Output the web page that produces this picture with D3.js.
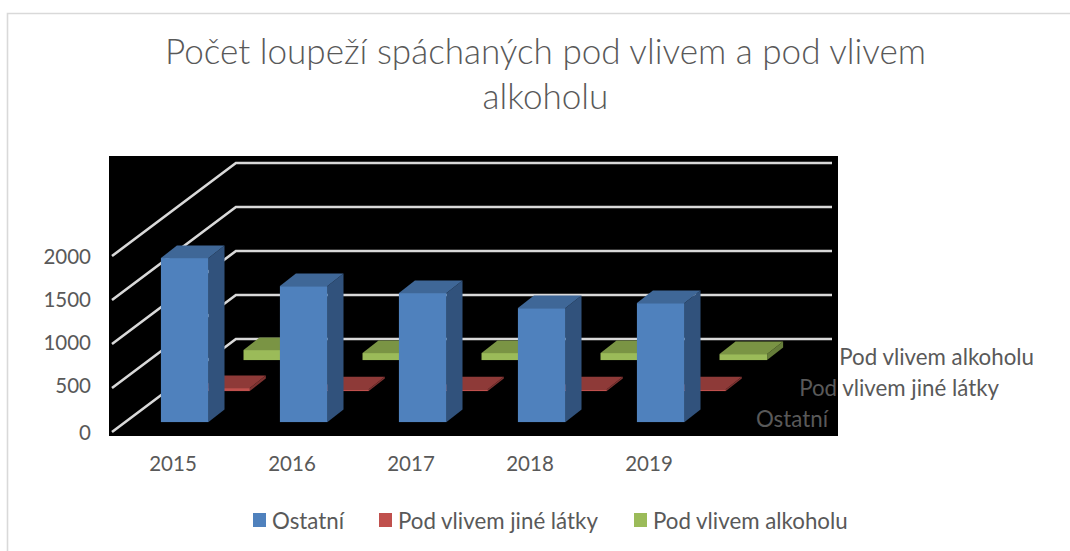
<!DOCTYPE html>
<html><head><meta charset="utf-8">
<script src="https://cdn.jsdelivr.net/npm/d3@7/dist/d3.min.js"></script>
<style>html,body{margin:0;padding:0;background:#fff}svg{display:block}text{font-family:Lato,"Open Sans",sans-serif;fill:#595959}</style>
</head><body><script>
const categories = ["2015","2016","2017","2018","2019"];
const seriesNames = ["Ostatní","Pod vlivem jiné látky","Pod vlivem alkoholu"];
const ostatni = [1864,1545,1466,1295,1352];
const jineLatky = [34,20,20,20,20];
const alkohol = [114,80,80,80,68];
const yTicks = [0,500,1000,1500,2000];
const titleLines = ["Počet loupeží spáchaných pod vlivem a pod vlivem","alkoholu"];
const faceColors = ["#4f81bd","#c0504d","#9bbb59"];
const topColors = ["#3f6797","#8e3a38","#7a9444"];
const sideColors = ["#31527c","#7d3331","#667d3a"];

const seriesValues = [ostatni,jineLatky,alkohol];
const W=1070,H=551;
const svg=d3.select("body").append("svg").attr("width",W).attr("height",H);

// chart frame
svg.append("path").attr("d","M7.5,551V13.5H1070").attr("fill","none").attr("stroke","#d9d9d9").attr("stroke-width",1.6);

// title
svg.selectAll("text.title").data(titleLines).join("text").attr("class","title")
  .attr("x",545.5).attr("y",(d,i)=>[64,109][i]).attr("text-anchor","middle")
  .attr("font-size",35.1).attr("font-weight",300).text(d=>d);

// black plot area
svg.append("rect").attr("x",109).attr("y",156).attr("width",729).attr("height",280).attr("fill","#000");

// projection scales: x/y on the front floor, depth offsets per series
const x=d3.scaleBand().domain(categories).range([112,707]).paddingInner(0.6).paddingOuter(0.3);
const y=d3.scaleLinear().domain([0,2000]).range([432,256]);
const DX=41.3, DY=31;            // offset per series slot
const barDX=16, barDY=12.5;      // depth of one bar

// gridlines: side wall + back wall
const backX=112+3*DX, backDY=-3*DY;
svg.append("g").selectAll("path").data(yTicks).join("path")
  .attr("d",t=>`M${112},${y(t)}L${backX},${y(t)+backDY}L832,${y(t)+backDY}`)
  .attr("fill","none").attr("stroke","#d9d9d9").attr("stroke-width",2.6);

// bars, back series first
const bars=svg.append("g");
[2,1,0].forEach(s=>{
  const d0=0.32+s;
  const g=bars.append("g");
  categories.forEach((c,i)=>{
    const x0=x(c)+d0*DX, x1=x0+x.bandwidth();
    const yb=y(0)-d0*DY, yt=yb-(y(0)-y(seriesValues[s][i]));
    g.append("polygon").attr("points",[[x1,yt],[x1+barDX,yt-barDY],[x1+barDX,yb-barDY],[x1,yb]].join(" ")).attr("fill",sideColors[s]);
    g.append("polygon").attr("points",[[x0,yt],[x0+barDX,yt-barDY],[x1+barDX,yt-barDY],[x1,yt]].join(" ")).attr("fill",topColors[s]);
    g.append("rect").attr("x",x0).attr("y",yt).attr("width",x1-x0).attr("height",yb-yt).attr("fill",faceColors[s]);
  });
});

// value axis labels
const yLabelPos=[433,386,343,300,257];
svg.selectAll("text.yl").data(yTicks).join("text").attr("class","yl")
  .attr("x",91).attr("y",(d,i)=>yLabelPos[i]).attr("dy","0.35em").attr("text-anchor","end")
  .attr("font-size",20.5).text(d=>d);

// category labels
svg.selectAll("text.xl").data(categories).join("text").attr("class","xl")
  .attr("x",d=>x(d)+x.bandwidth()/2+1.5).attr("y",463.5).attr("dy","0.35em").attr("text-anchor","middle")
  .attr("font-size",20.5).text(d=>d);

// depth axis labels
const depthPos=[[828,419],[999,388],[1034,357]];
svg.selectAll("text.dl").data(seriesNames).join("text").attr("class","dl")
  .attr("x",(d,i)=>depthPos[i][0]).attr("y",(d,i)=>depthPos[i][1]).attr("dy","0.35em").attr("text-anchor","end")
  .attr("font-size",22.3).text(d=>d);

// legend
const legX=[253,379,634];
const leg=svg.selectAll("g.leg").data(seriesNames).join("g").attr("class","leg").attr("transform",(d,i)=>`translate(${legX[i]},520)`);
leg.append("rect").attr("x",0).attr("y",-7).attr("width",13).attr("height",14).attr("fill",(d,i)=>faceColors[i]);
leg.append("text").attr("x",19).attr("y",1).attr("dy","0.35em").attr("font-size",22.3).text(d=>d);
</script></body></html>
